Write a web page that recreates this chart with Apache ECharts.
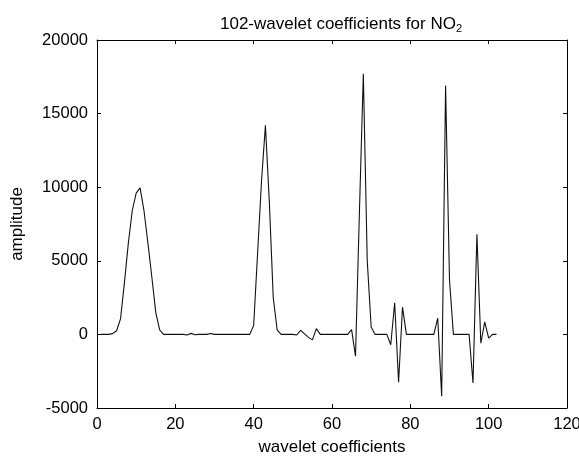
<!DOCTYPE html>
<html>
<head>
	<title>wavelet coefficients</title>
	<meta charset="utf-8" />
	<script type="text/javascript" src="https://cdn.jsdelivr.net/npm/echarts@6/dist/echarts.min.js"></script>
	<style type="text/css">
		html, body{ margin: 0; padding: 0; background: #fff; }
		#container{ width: 579px; height: 456px; }
	</style>
</head>
<body>
<div id="container"></div>
</body>

<script type="text/javascript">
	// amplitude of each of the 102 coefficients (coefficient 1..102)
	var amplitude = [
		0, 0, 0, 50, 250, 1050, 3500, 6200, 8400, 9600,
		9950, 8400, 6200, 3900, 1500, 300, 0, 0, 0, 0,
		0, 0, -40, 70, -20, 0, 0, 0, 60, 0,
		0, 0, 0, 0, 0, 0, 0, 0, 0, 600,
		5500, 10400, 14200, 9000, 2500, 300, 0, 0, 0, 0,
		-40, 280, 30, -200, -370, 390, 0, 0, 0, 0,
		0, 0, 0, 0, 320, -1480, 8300, 17700, 5000, 500,
		0, 0, 0, 0, -700, 2150, -3250, 1850, 0, 0,
		0, 0, 0, 0, 0, 0, 1100, -4200, 16900, 3700,
		0, 0, 0, 0, 0, -3300, 6800, -600, 850, -250,
		0, 0
	];
	var xTicks = [0, 20, 40, 60, 80, 100, 120];
	var yTicks = [-5000, 0, 5000, 10000, 15000, 20000];

	var points = amplitude.map(function(v, i){ return [i + 1, v]; });

	var chart = echarts.init(document.getElementById("container"), null, {renderer: 'canvas'});

	var font = 'Liberation Sans';
	var frameAxis = {
		axisLine: { show: true, onZero: false, lineStyle: { color: '#000', width: 1 } },
		axisTick: { show: true, inside: true, length: 4, lineStyle: { color: '#000' } },
		splitLine: { show: false }
	};
	var plain = function(v){ return String(v); };

	var options = {
		animation: false,
		backgroundColor: '#fff',
		title: {
			text: '{a|102-wavelet coefficients for NO}{b|2}',
			left: 336,
			top: 9,
			textAlign: 'center',
			textStyle: {
				fontWeight: 'normal',
				rich: {
					a: { fontFamily: font, fontSize: 17, fontWeight: 'normal', color: '#000' },
					b: { fontFamily: font, fontSize: 11, fontWeight: 'normal', color: '#000', padding: [9, 0, 0, 0] }
				}
			}
		},
		grid: { left: 97, right: 12, top: 40, bottom: 48, containLabel: false, outerBoundsMode: 'none' },
		xAxis: [
			Object.assign({
				type: 'value', min: xTicks[0], max: xTicks[xTicks.length - 1], interval: 20,
				position: 'bottom',
				name: 'wavelet coefficients', nameLocation: 'middle', nameGap: 31,
				nameTextStyle: { fontFamily: font, fontSize: 17, color: '#000' },
				axisLabel: { fontFamily: font, fontSize: 16.5, color: '#000', margin: 8, formatter: plain }
			}, frameAxis),
			Object.assign({
				type: 'value', min: xTicks[0], max: xTicks[xTicks.length - 1], interval: 20,
				position: 'top', axisLabel: { show: false }
			}, frameAxis)
		],
		yAxis: [
			Object.assign({
				type: 'value', min: yTicks[0], max: yTicks[yTicks.length - 1], interval: 5000,
				position: 'left',
				name: 'amplitude', nameLocation: 'middle', nameGap: 71,
				nameTextStyle: { fontFamily: font, fontSize: 17, color: '#000' },
				axisLabel: { fontFamily: font, fontSize: 16.5, color: '#000', margin: 9, formatter: plain }
			}, frameAxis),
			Object.assign({
				type: 'value', min: yTicks[0], max: yTicks[yTicks.length - 1], interval: 5000,
				position: 'right', axisLabel: { show: false }
			}, frameAxis)
		],
		series: [
			{
				type: 'line',
				data: points,
				xAxisIndex: 0,
				yAxisIndex: 0,
				showSymbol: false,
				symbol: 'none',
				lineStyle: { color: '#111', width: 1.1 }
			}
		]
	};

	chart.setOption(options);
</script>

</html>
